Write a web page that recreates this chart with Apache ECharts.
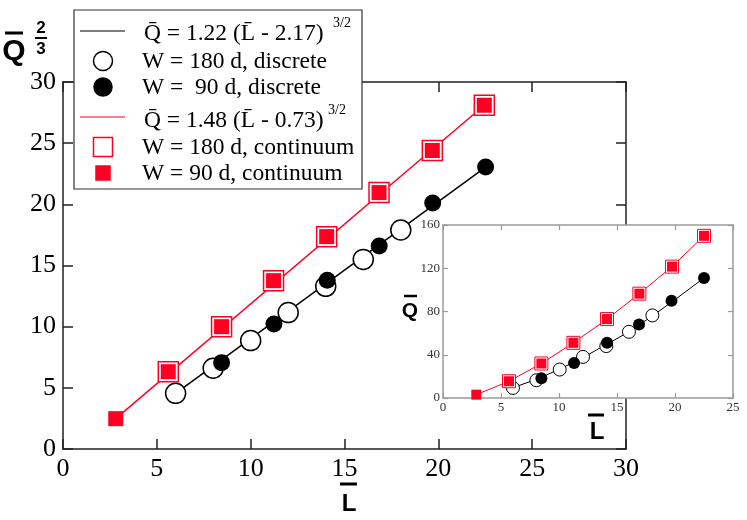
<!DOCTYPE html>
<html>
<head>
<meta charset="utf-8">
<script src="https://cdn.jsdelivr.net/npm/echarts@6/dist/echarts.min.js"></script>
<style>
  html, body { margin: 0; padding: 0; background: #fff; }
  #chart { width: 747px; height: 520px; }
</style>
</head>
<body>
<div id="chart"></div>
<script>
// main panel: Q^(2/3) against L
var disc180 = [[6, 4.55], [8, 6.6], [10, 8.86], [12, 11.15], [14, 13.3], [16, 15.5], [18, 17.9]];
var disc90 = [[8.45, 7.06], [11.24, 10.22], [14.08, 13.8], [16.85, 16.6], [19.7, 20.1], [22.52, 23.05]];
var cont180 = [[5.61, 6.32], [8.45, 10.0], [11.22, 13.76], [14.05, 17.36], [16.84, 20.96], [19.68, 24.4], [22.45, 28.1]];
var cont90 = [[2.81, 2.48], [5.61, 6.32], [8.45, 10.0], [11.22, 13.76], [14.05, 17.36], [16.84, 20.96], [19.68, 24.4], [22.45, 28.1]];
var fitDisc = [[6, 4.55], [22.52, 23.05]];
var fitCont = [[2.81, 2.48], [22.45, 28.1]];

// inset: Q against L
var inDisc180 = [[6.03, 9.3], [8.05, 16.4], [10.06, 26.3], [12.07, 38], [14.08, 48], [16.03, 61.2], [18.05, 76.4]];
var inDisc90 = [[8.48, 18.2], [11.3, 32.4], [14.14, 51], [16.9, 68], [19.7, 90], [22.5, 111]];
var inCont180 = [[5.69, 15.5], [8.48, 31.9], [11.24, 51], [14.14, 73], [16.93, 96.5], [19.74, 121.5], [22.5, 150]];
var inCont90 = [[2.87, 3.1], [5.69, 15.5], [8.48, 31.9], [11.24, 51], [14.14, 73], [16.93, 96.5], [19.74, 121.5], [22.5, 150]];
var inFitDisc = [[6, 9.5], [8, 17], [10, 26.4], [12, 37], [14, 49], [16, 61], [18, 75.5], [20, 91], [22.5, 111]];
var inFitCont = [[2.87, 3.1], [5.69, 15.5], [8.48, 31.9], [11.24, 51], [14.14, 73], [16.93, 96.5], [19.74, 121.5], [22.5, 150]];

var mainTicks = [0, 30, 5];
var insetXTicks = [0, 25, 5];
var insetYTicks = [0, 160, 40];

var RED = '#ff0022';
var SERIF = 'Liberation Serif';
var SANS = 'Liberation Sans';

function mainAxis(pos, range, showLabel) {
    return {
        type: 'value', gridIndex: 0, position: pos,
        min: range[0], max: range[1], interval: range[2],
        axisLine: {show: true, onZero: false, lineStyle: {color: '#222', width: 1.5}},
        axisTick: {show: true, inside: true, length: 10, lineStyle: {color: '#222', width: 1.5}},
        axisLabel: {show: showLabel, color: '#000', fontFamily: SERIF, fontSize: 26, margin: 7},
        splitLine: {show: false}
    };
}
function insetAxis(pos, range, showLabel) {
    return {
        type: 'value', gridIndex: 1, position: pos, z: 11,
        min: range[0], max: range[1], interval: range[2],
        axisLine: {show: true, onZero: false, lineStyle: {color: '#9a9a9a', width: 1.5}},
        axisTick: {show: true, inside: true, length: 5, lineStyle: {color: '#9a9a9a', width: 1.2}},
        axisLabel: {show: showLabel, color: '#333', fontFamily: SERIF, fontSize: 13, margin: 3},
        splitLine: {show: false}
    };
}
function lineSeries(data, color, w, xi, yi, z) {
    return {type: 'line', data: data, xAxisIndex: xi, yAxisIndex: yi, z: z,
        showSymbol: false, symbol: 'none', lineStyle: {color: color, width: w}};
}
function scat(data, sym, size, fill, border, bw, xi, yi, z) {
    return {type: 'scatter', data: data, xAxisIndex: xi, yAxisIndex: yi, z: z,
        symbol: sym, symbolSize: size,
        itemStyle: {color: fill, borderColor: border, borderWidth: bw, opacity: 1}};
}

// legend rows drawn as graphics
var legendRows = [
    {y: 31, kind: 'line', color: '#000'},
    {y: 61, kind: 'circle', fill: '#fff', border: '#000', text: 'W = 180 d, discrete'},
    {y: 87, kind: 'dot', fill: '#000', border: '#000', text: 'W =  90 d, discrete'},
    {y: 117, kind: 'line', color: RED},
    {y: 147, kind: 'square', fill: '#fff', border: RED, text: 'W = 180 d, continuum'},
    {y: 173, kind: 'fsquare', fill: RED, border: RED, text: 'W = 90 d, continuum'}
];
var LEG_FONT = '23.5px ' + SERIF;
var legendItems = [{type: 'rect', z: 20, shape: {x: 74, y: 10, width: 288, height: 179},
    style: {fill: '#fff', stroke: '#333', lineWidth: 1.2}}];
legendRows.forEach(function (r) {
    if (r.kind == 'line') {
        legendItems.push({type: 'line', z: 21, shape: {x1: 80, y1: r.y, x2: 125, y2: r.y}, style: {stroke: r.color, lineWidth: 1.2}});
    } else if (r.kind == 'circle' || r.kind == 'dot') {
        legendItems.push({type: 'circle', z: 21, shape: {cx: 103, cy: r.y, r: r.kind == 'circle' ? 9.5 : 9},
            style: {fill: r.fill, stroke: r.border, lineWidth: 1.5}});
    } else {
        var s = r.kind == 'square' ? 19 : 14;
        legendItems.push({type: 'rect', z: 21, shape: {x: 103 - s / 2, y: r.y - s / 2, width: s, height: s},
            style: {fill: r.fill, stroke: r.border, lineWidth: 1.5}});
    }
    if (r.text) {
        legendItems.push({type: 'text', z: 21, x: 142, y: r.y + 1, style: {text: r.text, fill: '#000',
            font: LEG_FONT, textVerticalAlign: 'middle'}});
    }
});
// formula rows
legendItems.push({type: 'text', z: 21, x: 144, y: 34, style: {text: 'Q\u0304 = 1.22 (L\u0304 - 2.17)', fill: '#000', font: LEG_FONT, textVerticalAlign: 'middle'}});
legendItems.push({type: 'text', z: 21, x: 333, y: 23, style: {text: '3/2', fill: '#000', font: '14px ' + SERIF, textVerticalAlign: 'middle'}});
legendItems.push({type: 'text', z: 21, x: 144, y: 121, style: {text: 'Q\u0304 = 1.48 (L\u0304 - 0.73)', fill: '#000', font: LEG_FONT, textVerticalAlign: 'middle'}});
legendItems.push({type: 'text', z: 21, x: 328, y: 110, style: {text: '3/2', fill: '#000', font: '14px ' + SERIF, textVerticalAlign: 'middle'}});

var titles = [
    // main y title Q bar ^ 2/3
    {type: 'text', x: 14, y: 52, style: {text: 'Q', fill: '#000', font: 'bold 30px ' + SANS, textAlign: 'center', textVerticalAlign: 'middle'}},
    {type: 'line', shape: {x1: 5, y1: 33, x2: 23, y2: 33}, style: {stroke: '#000', lineWidth: 3}},
    {type: 'text', x: 41, y: 28, style: {text: '2', fill: '#000', font: 'bold 17px ' + SANS, textAlign: 'center', textVerticalAlign: 'middle'}},
    {type: 'line', shape: {x1: 35, y1: 38, x2: 47, y2: 38}, style: {stroke: '#000', lineWidth: 2}},
    {type: 'text', x: 41, y: 49, style: {text: '3', fill: '#000', font: 'bold 17px ' + SANS, textAlign: 'center', textVerticalAlign: 'middle'}},
    // main x title L bar
    {type: 'text', x: 349, y: 504, style: {text: 'L', fill: '#000', font: 'bold 24px ' + SANS, textAlign: 'center', textVerticalAlign: 'middle'}},
    {type: 'line', shape: {x1: 340, y1: 484, x2: 357, y2: 484}, style: {stroke: '#000', lineWidth: 3}},
    // inset titles
    {type: 'text', x: 410, y: 311, style: {text: 'Q', fill: '#000', font: 'bold 21px ' + SANS, textAlign: 'center', textVerticalAlign: 'middle'}},
    {type: 'line', shape: {x1: 404, y1: 296, x2: 417, y2: 296}, style: {stroke: '#000', lineWidth: 2.5}},
    {type: 'text', x: 597, y: 432, style: {text: 'L', fill: '#000', font: 'bold 24px ' + SANS, textAlign: 'center', textVerticalAlign: 'middle'}},
    {type: 'line', shape: {x1: 588, y1: 415, x2: 604, y2: 415}, style: {stroke: '#000', lineWidth: 3}}
];
titles.forEach(function (t) { t.z = 21; });

var myChart = echarts.init(document.getElementById('chart'), null, {renderer: 'canvas'});
var option = {
    animation: false,
    backgroundColor: '#fff',
    grid: [
        {left: 63, right: 121, top: 82, bottom: 71, show: false},
        {left: 443, right: 14, top: 225, bottom: 122, show: true, backgroundColor: '#fff', borderWidth: 0, z: 10}
    ],
    xAxis: [
        mainAxis('bottom', mainTicks, true),
        mainAxis('top', mainTicks, false),
        insetAxis('bottom', insetXTicks, true),
        insetAxis('top', insetXTicks, false)
    ],
    yAxis: [
        mainAxis('left', mainTicks, true),
        mainAxis('right', mainTicks, false),
        insetAxis('left', insetYTicks, true),
        insetAxis('right', insetYTicks, false)
    ],
    series: [
        lineSeries(fitDisc, '#000', 1.5, 0, 0, 2),
        lineSeries(fitCont, RED, 1.5, 0, 0, 2),
        scat(disc180, 'circle', 20, '#fff', '#000', 1.5, 0, 0, 3),
        scat(disc90, 'circle', 17, '#000', '#000', 0, 0, 0, 3),
        scat(cont180, 'rect', 20, '#fff', RED, 1.5, 0, 0, 3),
        scat(cont90, 'rect', 15, RED, RED, 0, 0, 0, 3),
        lineSeries(inFitDisc, '#000', 1, 2, 2, 12),
        lineSeries(inFitCont, RED, 1, 2, 2, 12),
        scat(inDisc180, 'circle', 13, '#fff', '#000', 1, 2, 2, 13),
        scat(inDisc90, 'circle', 12, '#000', '#000', 0, 2, 2, 13),
        scat(inCont180, 'rect', 13, '#fff', RED, 1, 2, 2, 13),
        scat(inCont90, 'rect', 10, RED, RED, 0, 2, 2, 13)
    ],
    graphic: [
        {type: 'group', z: 20, children: legendItems},
        {type: 'group', z: 20, children: titles}
    ]
};
myChart.setOption(option);
</script>
</body>
</html>
